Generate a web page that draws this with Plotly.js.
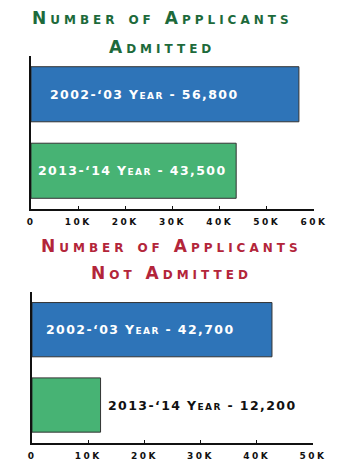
<!DOCTYPE html>
<html>
<head>
<meta charset="utf-8">
<script src="https://cdn.plot.ly/plotly-3.0.1.min.js"></script>
<style>
html,body{margin:0;padding:0;background:#fff;}
#chart{width:363px;height:475px;}
</style>
</head>
<body>
<div id="chart"></div>
<script>
// ---- data ----
const periods = ["2002-\u201803", "2013-\u201814"];
const admitted = [56800, 43500];
const notAdmitted = [42700, 12200];
const barColors = ["#2e74b8", "#47b374"];
const admittedTicks = [0, 10000, 20000, 30000, 40000, 50000, 60000];
const admittedTickText = ["0", "10K", "20K", "30K", "40K", "50K", "60K"];
const notAdmittedTicks = [0, 10000, 20000, 30000, 40000, 50000];
const notAdmittedTickText = ["0", "10K", "20K", "30K", "40K", "50K"];
const titleAdmitted = ["Number of Applicants", "Admitted"];
const titleNotAdmitted = ["Number of Applicants", "Not Admitted"];

const fmt = v => v.toLocaleString("en-US");
const label = (p, v) => p + " Year - " + fmt(v);
const spaced = (t, s) => '<span style="letter-spacing:' + s + 'px">' + t + '</span>';

const W = 363, H = 475;
const px = x => x / W;
const py = y => 1 - y / H;

const barLine = {color: "#333", width: 1};

const traces = [
  {type: "bar", orientation: "h", y: periods, x: admitted, xaxis: "x", yaxis: "y",
   marker: {color: barColors, line: barLine}, hoverinfo: "none"},
  {type: "bar", orientation: "h", y: periods, x: notAdmitted, xaxis: "x2", yaxis: "y2",
   marker: {color: barColors, line: barLine}, hoverinfo: "none"}
];

const tickFont = {family: "DejaVu Sans", size: 9, color: "#111", weight: "bold"};
const xCommon = {showline: true, linecolor: "#111", linewidth: 2, showgrid: false, zeroline: false,
  ticks: "inside", ticklen: 3, tickwidth: 1, tickcolor: "#111", tickfont: tickFont, ticklabelstandoff: 3, fixedrange: true};
const yCommon = {showline: true, linecolor: "#111", linewidth: 2, showgrid: false, zeroline: false,
  showticklabels: false, ticks: "", autorange: false, range: [1.5, -0.5], fixedrange: true};

const titleFont = c => ({family: "DejaVu Sans", size: 17, weight: "bold", variant: "small-caps", color: c});
const barFont = c => ({family: "DejaVu Sans", size: 12.5, weight: "bold", variant: "small-caps", color: c});

const annotations = [];
function addTitle(lines, color, cx, ys) {
  lines.forEach((t, i) => annotations.push({text: spaced(t, 4), xref: "paper", yref: "paper", x: px(cx), y: py(ys[i]),
    xanchor: "center", yanchor: "middle", showarrow: false, font: titleFont(color)}));
}
addTitle(titleAdmitted, "#1d6a3b", 162, [18, 47]);
addTitle(titleNotAdmitted, "#b3253a", 171, [246, 273]);

// bar labels
const admShift = [17, 5];
periods.forEach((p, i) => annotations.push({text: spaced(label(p, admitted[i]), 1.4), xref: "x", yref: "y",
  x: 0, y: p, xanchor: "left", yanchor: "middle", xshift: admShift[i], showarrow: false, font: barFont("#fff")}));
const naInside = [true, false];
periods.forEach((p, i) => annotations.push({text: spaced(label(p, notAdmitted[i]), 1.4), xref: "x2", yref: "y2",
  x: naInside[i] ? 0 : notAdmitted[i], y: p, xanchor: "left", yanchor: "middle",
  xshift: naInside[i] ? 12 : 5, showarrow: false, font: barFont(naInside[i] ? "#fff" : "#111")}));

const layout = {
  width: W, height: H, margin: {l: 0, r: 0, t: 0, b: 0},
  paper_bgcolor: "#fff", plot_bgcolor: "#fff", showlegend: false, bargap: 0.28,
  xaxis: Object.assign({}, xCommon, {domain: [px(31), px(314)], range: [0, 60000], tickvals: admittedTicks,
    ticktext: admittedTickText.map(t => spaced(t, 2.5)), anchor: "y"}),
  yaxis: Object.assign({}, yCommon, {domain: [py(209), py(56)], anchor: "x"}),
  xaxis2: Object.assign({}, xCommon, {domain: [px(32), px(313)], range: [0, 50000], tickvals: notAdmittedTicks,
    ticktext: notAdmittedTickText.map(t => spaced(t, 2.5)), anchor: "y2"}),
  yaxis2: Object.assign({}, yCommon, {domain: [py(442.7), py(292)], anchor: "x2"}),
  annotations: annotations
};

Plotly.newPlot("chart", traces, layout, {displayModeBar: false, staticPlot: true});
</script>
</body>
</html>
